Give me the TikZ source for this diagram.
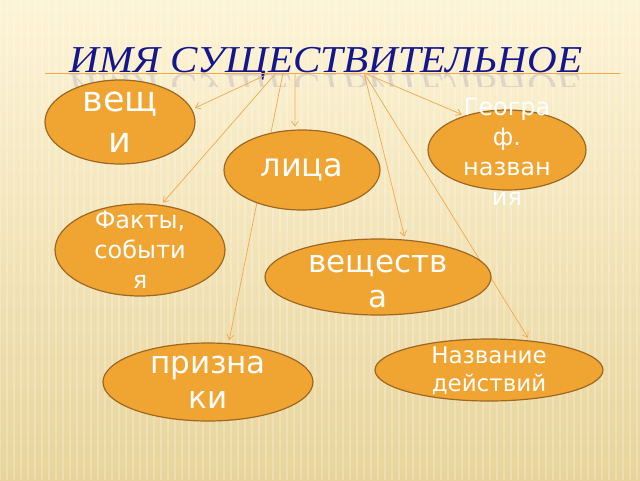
\documentclass[tikz,border=0pt]{standalone}
\usepackage{fontspec}
\setmainfont{DejaVu Sans}
\newfontfamily\ttlfont{Liberation Serif}[ItalicFont={* Italic}]
\usetikzlibrary{arrows.meta,shapes.geometric}
\definecolor{ovalfill}{RGB}{240,164,50}
\definecolor{ovaldraw}{RGB}{158,104,34}
\definecolor{arrowc}{RGB}{242,168,78}
\definecolor{titleblue}{RGB}{22,22,140}
\definecolor{bgtop}{RGB}{253,244,214}
\definecolor{bgbot}{RGB}{232,212,155}
\begin{document}
\begin{tikzpicture}[x=1pt,y=-1pt,
  oval/.style={ellipse,draw=ovaldraw,fill=ovalfill,line width=1.2pt,inner sep=0pt},
  lbl/.style={text=white,align=center,inner sep=0pt},
  ttl/.style={anchor=base,text=titleblue,inner sep=0pt,xscale=1.08,font=\ttlfont\itshape\fontsize{38}{38}\selectfont},
  conn/.style={draw=arrowc,line width=0.7pt,-{Straight Barb[length=5pt,width=7pt]},shorten >=3pt}]
\useasboundingbox (0,0) rectangle (640,480);
\shade[top color=bgtop,bottom color=bgbot] (0,0) rectangle (640,480);
\foreach \x in {0,7,...,640} \draw[white,opacity=0.22,line width=1.6pt] (\x,0) -- (\x,480);
% title
\node[ttl] (title) at (326,72) {ИМЯ СУЩЕСТВИТЕЛЬНОЕ};
\begin{scope}
\clip (40,73) rectangle (620,86);
\node[ttl,yscale=-1,opacity=0.12] (reflect) at (326,74) {ИМЯ СУЩЕСТВИТЕЛЬНОЕ};
\end{scope}
\coordinate (l0) at (45,73);
\coordinate (l1) at (620,73);
\draw[arrowc,line width=0.6pt] (l0) -- (l1);
\coordinate (s1) at (270,73);
\coordinate (s2) at (276,73);
\coordinate (s3) at (283,73);
\coordinate (s4) at (295,73);
\coordinate (s5) at (364,73);
% ellipses
\path
  (120,122) node[oval,minimum width=150pt,minimum height=84pt] (veshchi) {}
  (140,250) node[oval,minimum width=170pt,minimum height=92pt] (fakty) {}
  (507,150) node[oval,minimum width=158pt,minimum height=80pt] (geo) {}
  (208,382) node[oval,minimum width=210pt,minimum height=78pt] (priznaki) {}
  (489,370) node[oval,minimum width=228pt,minimum height=62pt] (nazv) {};
% connectors
\draw[conn] (s1) -- (veshchi.10);
\draw[conn] (s2) -- (fakty.65);
\draw[conn] (s5) -- (geo.141);
\draw[conn] (s5) -- (nazv.36);
\draw[conn] (s3) -- (priznaki.62);
% ellipses drawn over the long line
\path
  (302,170) node[oval,minimum width=156pt,minimum height=80pt] (lica) {}
  (378,277) node[oval,minimum width=226pt,minimum height=76pt] (veshch) {};
\draw[conn] (s4) -- (lica.100);
\draw[conn] (s5) -- (veshch.54);
% labels
\node[lbl,font=\fontsize{35}{41}\selectfont] (t1) at (veshchi) {вещ\\и};
\node[lbl,font=\fontsize{32}{38}\selectfont] (t2) at (lica) {лица};
\node[lbl,font=\fontsize{24}{30}\selectfont] (t3) at (fakty) {Факты,\\событи\\я};
\node[lbl,font=\fontsize{24}{30}\selectfont] (t4) at (507,152) {Геогра\\ф.\\назван\\ия};
\node[lbl,font=\fontsize{31}{35}\selectfont] (t5) at (378,282) {веществ\\а};
\node[lbl,font=\fontsize{31}{35}\selectfont] (t6) at (priznaki) {призна\\ки};
\node[lbl,font=\fontsize{23}{28}\selectfont] (t7) at (489,371) {Название\\действий};
\end{tikzpicture}
\end{document}
